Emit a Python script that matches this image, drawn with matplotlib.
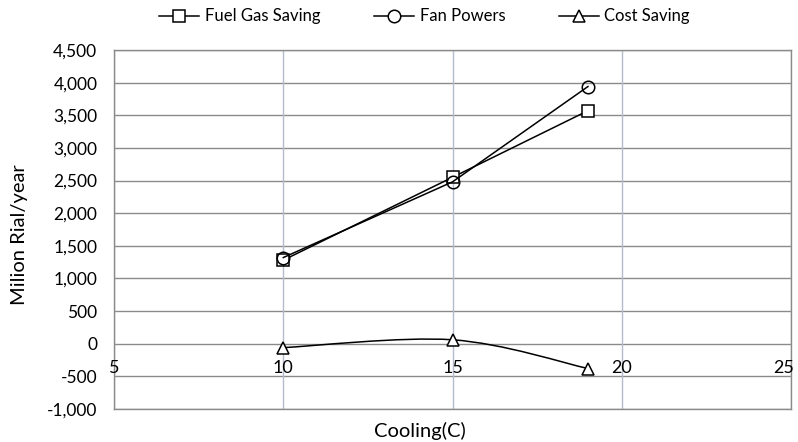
import numpy as np
import matplotlib
matplotlib.use('Agg')
import matplotlib.pyplot as plt
from matplotlib.path import Path
from matplotlib.patches import PathPatch
from matplotlib.lines import Line2D

plt.rcParams['font.family'] = ['Lato', 'DejaVu Sans']

cooling = [10, 15, 19]
fuel_gas_saving = [1280, 2550, 3570]
fan_powers = [1320, 2480, 3940]
cost_saving = [-60, 60, -380]

x_ticks = [5, 10, 15, 20, 25]
y_ticks = list(range(-1000, 4501, 500))


def smooth_path(xs, ys):
    # Excel-style smoothed line as cubic Bezier segments
    pts = np.column_stack([xs, ys]).astype(float)
    n = len(pts)
    verts = [pts[0]]
    codes = [Path.MOVETO]
    for i in range(n - 1):
        p0 = pts[max(i - 1, 0)]
        p1 = pts[i]
        p2 = pts[i + 1]
        p3 = pts[min(i + 2, n - 1)]
        c1 = p1 + (p2 - p0) / 6
        c2 = p2 - (p3 - p1) / 6
        verts += [c1, c2, p2]
        codes += [Path.CURVE4] * 3
    return Path(verts, codes)


fig = plt.figure(figsize=(7.98, 4.42), dpi=100)
ax = fig.add_axes([0.1429, 0.0747, 0.8484, 0.8122])

ax.set_xlim(5, 25)
ax.set_ylim(-1000, 4500)
ax.set_yticks(y_ticks)
ax.set_yticklabels([f'{v:,}' for v in y_ticks], fontsize=12.5)
ax.set_xticks(x_ticks)
ax.tick_params(axis='both', length=0)
ax.tick_params(axis='y', pad=12)
ax.tick_params(axis='x', labelbottom=False)

for y in y_ticks:
    ax.axhline(y, color='#8a8a8a', lw=1.0, zorder=1)
for x in x_ticks:
    ax.axvline(x, color='#b4bccb', lw=1.0, zorder=1)
for s in ax.spines.values():
    s.set_color('#8a8a8a')
    s.set_linewidth(1.0)

# x tick labels sit just under the zero line
for x in x_ticks:
    dx = -5 if x == x_ticks[-1] else 0
    ax.annotate(str(x), (x, 0), xytext=(dx, -12), textcoords='offset points',
                ha='center', va='top', fontsize=13, annotation_clip=False)

lw = 1.1
ax.plot(cooling, fuel_gas_saving, color='black', lw=lw, marker='s', ms=9,
        mfc='white', mec='black', mew=1.1, zorder=3)
ax.plot(cooling, fan_powers, color='black', lw=lw, marker='o', ms=9,
        mfc='none', mec='black', mew=1.1, zorder=3)
ax.add_patch(PathPatch(smooth_path(cooling, cost_saving), fill=False,
                       ec='black', lw=lw, zorder=3))
ax.plot(cooling, cost_saving, ls='none', marker='^', ms=9,
        mfc='white', mec='black', mew=1.1, zorder=4)

ax.set_xlabel('Cooling(C)', fontsize=14.5)
ax.xaxis.set_label_coords(0.452, -0.035)
fig.text(0.024, 0.47, 'Milion Rial/year', rotation=90, fontsize=14.5,
         ha='center', va='center')

handles = [
    Line2D([], [], color='black', lw=lw, marker='s', ms=9, mfc='white', mew=1.1),
    Line2D([], [], color='black', lw=lw, marker='o', ms=9, mfc='white', mew=1.1),
    Line2D([], [], color='black', lw=lw, marker='^', ms=9, mfc='white', mew=1.1),
]
fig.legend(handles, ['Fuel Gas Saving', 'Fan Powers', 'Cost Saving'],
           loc='center', bbox_to_anchor=(0.532, 0.963), ncol=3, frameon=False,
           fontsize=12, handlelength=2.4, columnspacing=3.2, handletextpad=0.35)

fig.savefig('out.png', dpi=100)
